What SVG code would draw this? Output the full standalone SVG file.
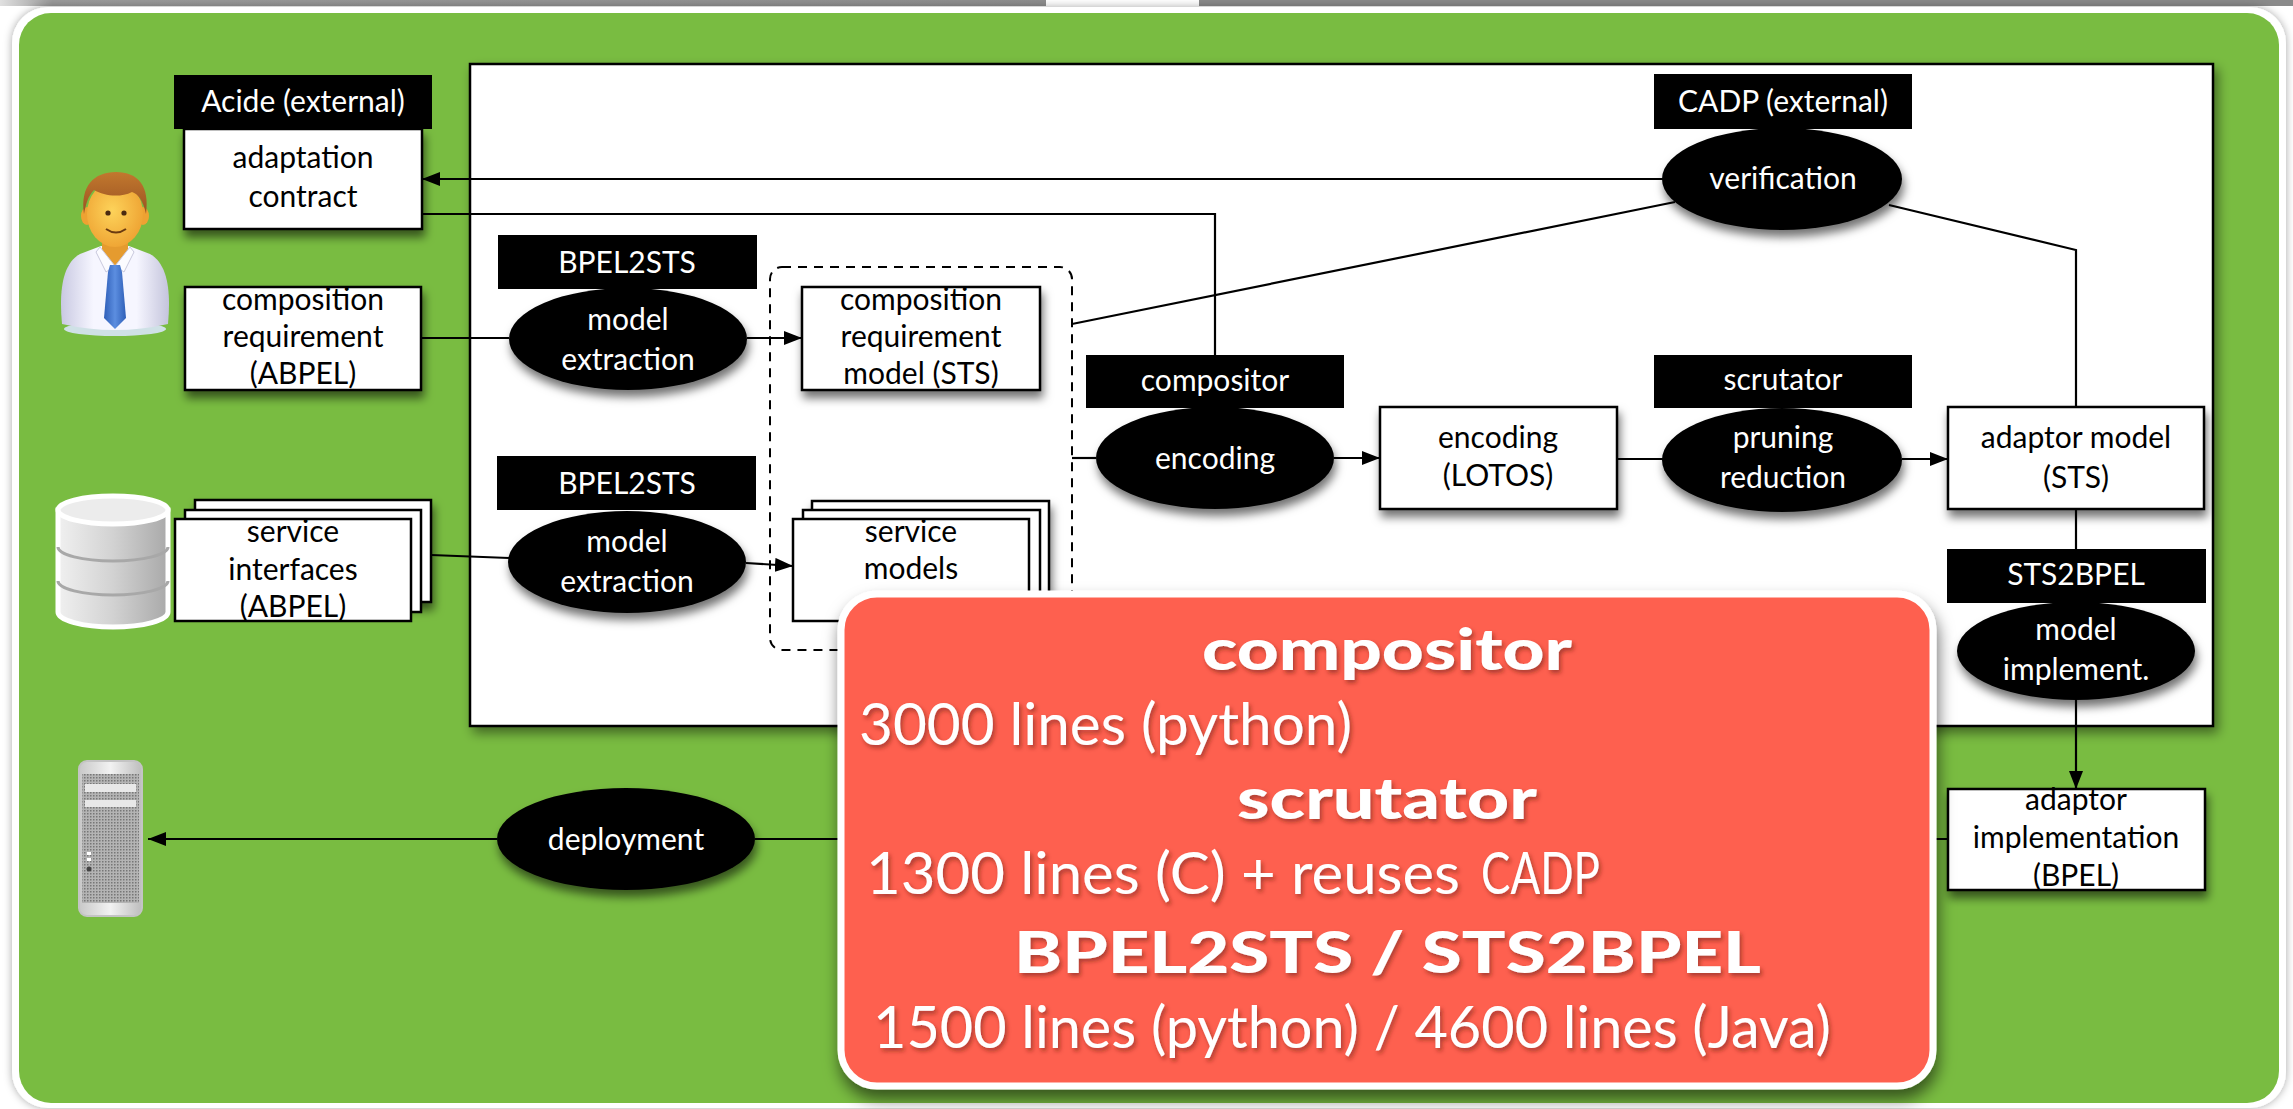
<svg xmlns="http://www.w3.org/2000/svg" width="2293" height="1109" viewBox="0 0 2293 1109">
  <style>
    .lbl { fill: #000; }
    .box { fill: #fff; stroke: #000; stroke-width: 2.5; }
    .op { fill: #000; }
    .t { font-family: Lato, "Open Sans", "Liberation Sans", sans-serif; font-size: 30px; text-anchor: middle; fill: #000; }
    .tw { fill: #fff; }
    .conn { stroke: #000; stroke-width: 2.2; fill: none; }
    .dash { fill: none; stroke: #000; stroke-width: 2; stroke-dasharray: 9 7; }
    .big { font-family: Lato, "Open Sans", "Liberation Sans", sans-serif; font-size: 58px; fill: #fff; }
    .bold { font-weight: 900; }
  </style>
  <defs>
    <marker id="arrow" markerUnits="userSpaceOnUse" markerWidth="18" markerHeight="14" refX="18" refY="7" orient="auto">
      <path d="M0,0 L18,7 L0,14 Z" fill="#000"/>
    </marker>
    <filter id="shadow" x="-20%" y="-20%" width="140%" height="160%">
      <feDropShadow dx="2" dy="7" stdDeviation="5" flood-color="#000" flood-opacity="0.55"/>
    </filter>
    <filter id="panelShadow" x="-5%" y="-5%" width="110%" height="115%">
      <feDropShadow dx="4" dy="6" stdDeviation="6" flood-color="#000" flood-opacity="0.45"/>
    </filter>
    <filter id="redShadow" x="-5%" y="-5%" width="110%" height="120%">
      <feDropShadow dx="2" dy="10" stdDeviation="8" flood-color="#000" flood-opacity="0.55"/>
    </filter>
    <filter id="outerShadow" x="-2%" y="-2%" width="104%" height="104%">
      <feDropShadow dx="0" dy="0" stdDeviation="4" flood-color="#000" flood-opacity="0.35"/>
    </filter>
    <filter id="textShadow" x="-5%" y="-20%" width="110%" height="150%">
      <feDropShadow dx="2" dy="3" stdDeviation="2" flood-color="#6b1f14" flood-opacity="0.55"/>
    </filter>
    <linearGradient id="topbar" x1="0" y1="0" x2="1" y2="0">
      <stop offset="0" stop-color="#e0e0e0"/>
      <stop offset="0.05" stop-color="#9a9a9a"/>
      <stop offset="1" stop-color="#8e8e8e"/>
    </linearGradient>
    <linearGradient id="shirt" x1="0" y1="0" x2="1" y2="0">
      <stop offset="0" stop-color="#c9c9e2"/>
      <stop offset="0.3" stop-color="#f6f6ff"/>
      <stop offset="0.7" stop-color="#f6f6ff"/>
      <stop offset="1" stop-color="#c4c4dc"/>
    </linearGradient>
    <radialGradient id="face" cx="0.45" cy="0.45" r="0.6">
      <stop offset="0" stop-color="#fdd35a"/>
      <stop offset="1" stop-color="#eea232"/>
    </radialGradient>
    <linearGradient id="hair" x1="0" y1="0" x2="0" y2="1">
      <stop offset="0" stop-color="#c2782e"/>
      <stop offset="1" stop-color="#9a5222"/>
    </linearGradient>
    <linearGradient id="tie" x1="0" y1="0" x2="1" y2="0">
      <stop offset="0" stop-color="#2f5fb8"/>
      <stop offset="0.5" stop-color="#5c8ee0"/>
      <stop offset="1" stop-color="#2f5fb8"/>
    </linearGradient>
    <linearGradient id="drum" x1="0" y1="0" x2="1" y2="0">
      <stop offset="0" stop-color="#f0f0f0"/>
      <stop offset="0.5" stop-color="#d2d2d2"/>
      <stop offset="1" stop-color="#a9a9a9"/>
    </linearGradient>
    <linearGradient id="silver" x1="0" y1="0" x2="1" y2="0">
      <stop offset="0" stop-color="#c8c8c8"/>
      <stop offset="0.5" stop-color="#f2f2f2"/>
      <stop offset="1" stop-color="#bdbdbd"/>
    </linearGradient>
    <pattern id="mesh" width="3" height="3" patternUnits="userSpaceOnUse">
      <rect width="3" height="3" fill="#b4b4b4"/>
      <rect width="1.5" height="1.5" fill="#777"/>
    </pattern>
  </defs>

  <!-- page frame -->
  <rect width="2293" height="1109" fill="#fff"/>
  <rect x="0" y="0" width="1046" height="6" fill="url(#topbar)"/>
  <rect x="1199" y="0" width="1094" height="6" fill="#8a8a8a"/>
  <rect x="12" y="7" width="2274" height="1101" rx="36" fill="#fff" filter="url(#outerShadow)"/>
  <rect x="19" y="13" width="2260" height="1090" rx="32" fill="#79bc41"/>

  <!-- tool boundary -->
  <rect id="panel" x="470" y="64" width="1743" height="662" fill="#fff" stroke="#000" stroke-width="2.5" filter="url(#panelShadow)"/>
  <rect id="model-group" x="770" y="267" width="302" height="383" rx="12" class="dash"/>

  <!-- connectors -->
  <g id="connectors">
    <line class="conn" x1="1663" y1="179" x2="422" y2="179" marker-end="url(#arrow)"/>
    <polyline class="conn" points="422,214 1215,214 1215,355"/>
    <line class="conn" x1="421" y1="338" x2="509" y2="338"/>
    <line class="conn" x1="747" y1="338" x2="802" y2="338" marker-end="url(#arrow)"/>
    <line class="conn" x1="431" y1="555" x2="509" y2="558"/>
    <line class="conn" x1="746" y1="563" x2="793" y2="566" marker-end="url(#arrow)"/>
    <line class="conn" x1="1072" y1="324" x2="1675" y2="202"/>
    <line class="conn" x1="1072" y1="458" x2="1096" y2="458"/>
    <line class="conn" x1="1334" y1="458" x2="1380" y2="458" marker-end="url(#arrow)"/>
    <line class="conn" x1="1617" y1="459" x2="1663" y2="459"/>
    <line class="conn" x1="1902" y1="459" x2="1948" y2="459" marker-end="url(#arrow)"/>
    <polyline class="conn" points="1889,205 2076,250 2076,407"/>
    <line class="conn" x1="2076" y1="509" x2="2076" y2="549"/>
    <line class="conn" x1="2076" y1="700" x2="2076" y2="789" marker-end="url(#arrow)"/>
    <line class="conn" x1="1948" y1="839" x2="755" y2="839"/>
    <line class="conn" x1="497" y1="839" x2="148" y2="839" marker-end="url(#arrow)"/>
  </g>

  <!-- designer -->
  <g id="designer">
    <ellipse cx="115" cy="329" rx="51" ry="7" fill="#cfe1e6"/>
    <path d="M62,324 C59,292 62,264 80,254 L101,246 L129,246 L150,254 C168,264 171,292 168,324 Q115,336 62,324 Z" fill="url(#shirt)"/>
    <path d="M102,240 L128,240 L128,256 L115,266 L102,256 Z" fill="#e59b2f"/>
    <path d="M100,247 L115,266 L106,272 L96,252 Z" fill="#fbfbff" stroke="#c8c8dc" stroke-width="1"/>
    <path d="M130,247 L115,266 L124,272 L134,252 Z" fill="#fbfbff" stroke="#c8c8dc" stroke-width="1"/>
    <path d="M110,265 L120,265 L122,272 L126,318 L115,329 L104,318 L108,272 Z" fill="url(#tie)"/>
    <ellipse cx="87" cy="216" rx="6" ry="9" fill="#eea232"/>
    <ellipse cx="143" cy="216" rx="6" ry="9" fill="#eea232"/>
    <ellipse cx="115" cy="214" rx="28" ry="33" fill="url(#face)"/>
    <path d="M84,214 C80,186 94,172 116,172 C138,172 150,186 146,214 C143,200 138,194 132,192 C120,198 104,196 94,190 C88,196 86,204 84,214 Z" fill="url(#hair)"/>
    <circle cx="108" cy="213" r="2.6" fill="#4a2a10"/>
    <circle cx="124" cy="213" r="2.6" fill="#4a2a10"/>
    <path d="M106,229 Q116,236 126,229" fill="none" stroke="#6a3a10" stroke-width="2"/>
  </g>

  <!-- service repository -->
  <g id="repository">
    <path d="M58,510 L58,612 A55,15 0 0 0 168,612 L168,510 Z" fill="url(#drum)" stroke="#fff" stroke-width="5"/>
    <path d="M58,547 A55,14 0 0 0 168,547" fill="none" stroke="#a8a8a8" stroke-width="3"/>
    <path d="M58,581 A55,14 0 0 0 168,581" fill="none" stroke="#a8a8a8" stroke-width="3"/>
    <ellipse cx="113" cy="510" rx="55" ry="14" fill="#ececec" stroke="#fff" stroke-width="5"/>
  </g>

  <!-- deployment server -->
  <g id="server">
    <rect x="79" y="761" width="63" height="155" rx="8" fill="url(#silver)" stroke="#c4c4c4" stroke-width="2"/>
    <rect x="82" y="774" width="57" height="129" fill="url(#mesh)"/>
    <rect x="85" y="784" width="51" height="8" fill="#e8e8e8"/>
    <rect x="85" y="800" width="51" height="7" fill="#e8e8e8"/>
    <rect x="87" y="852" width="4" height="3" fill="#fff"/>
    <rect x="87" y="858" width="4" height="3" fill="#fff"/>
    <circle cx="89" cy="869" r="2.5" fill="#444"/>
  </g>

  <!-- Acide -->
  <g id="adaptation-contract">
    <rect class="box" x="184" y="129" width="238" height="100" filter="url(#shadow)"/>
    <text class="t" x="303" y="168">adaptation</text>
    <text class="t" x="303" y="207">contract</text>
  </g>
  <g id="acide-label">
    <rect class="lbl" x="174" y="75" width="258" height="54"/>
    <text class="t tw" x="303" y="112">Acide (external)</text>
  </g>

  <g id="composition-requirement">
    <rect class="box" x="185" y="287" width="236" height="103" filter="url(#shadow)"/>
    <text class="t" x="303" y="310">composition</text>
    <text class="t" x="303" y="347">requirement</text>
    <text class="t" x="303" y="384">(ABPEL)</text>
  </g>

  <g id="service-interfaces">
    <rect class="box" x="195" y="500" width="236" height="102" filter="url(#shadow)"/>
    <rect class="box" x="185" y="510" width="236" height="102"/>
    <rect class="box" x="175" y="519" width="236" height="102"/>
    <text class="t" x="293" y="542">service</text>
    <text class="t" x="293" y="580">interfaces</text>
    <text class="t" x="293" y="617">(ABPEL)</text>
  </g>

  <!-- BPEL2STS extraction -->
  <g id="extraction-1">
    <ellipse class="op" cx="628" cy="339" rx="119" ry="51" filter="url(#shadow)"/>
    <text class="t tw" x="628" y="330">model</text>
    <text class="t tw" x="628" y="370">extraction</text>
  </g>
  <g id="bpel2sts-label-1">
    <rect class="lbl" x="498" y="235" width="259" height="54"/>
    <text class="t tw" x="627" y="273">BPEL2STS</text>
  </g>
  <g id="extraction-2">
    <ellipse class="op" cx="627" cy="562" rx="119" ry="51" filter="url(#shadow)"/>
    <text class="t tw" x="627" y="552">model</text>
    <text class="t tw" x="627" y="592">extraction</text>
  </g>
  <g id="bpel2sts-label-2">
    <rect class="lbl" x="497" y="456" width="259" height="54"/>
    <text class="t tw" x="627" y="494">BPEL2STS</text>
  </g>

  <g id="composition-requirement-model">
    <rect class="box" x="802" y="287" width="238" height="103" filter="url(#shadow)"/>
    <text class="t" x="921" y="310">composition</text>
    <text class="t" x="921" y="347">requirement</text>
    <text class="t" x="921" y="384">model (STS)</text>
  </g>

  <g id="service-models">
    <rect class="box" x="812" y="501" width="237" height="100" filter="url(#shadow)"/>
    <rect class="box" x="803" y="510" width="237" height="101"/>
    <rect class="box" x="793" y="519" width="236" height="102"/>
    <text class="t" x="911" y="542">service</text>
    <text class="t" x="911" y="579">models</text>
  </g>

  <!-- compositor -->
  <g id="encoding">
    <ellipse class="op" cx="1215" cy="458" rx="119" ry="51" filter="url(#shadow)"/>
    <text class="t tw" x="1215" y="469">encoding</text>
  </g>
  <g id="compositor-label">
    <rect class="lbl" x="1086" y="355" width="258" height="53"/>
    <text class="t tw" x="1215" y="391">compositor</text>
  </g>

  <g id="encoding-lotos">
    <rect class="box" x="1380" y="407" width="237" height="102" filter="url(#shadow)"/>
    <text class="t" x="1498" y="448">encoding</text>
    <text class="t" x="1498" y="486">(LOTOS)</text>
  </g>

  <!-- CADP -->
  <g id="verification">
    <ellipse class="op" cx="1782" cy="179" rx="120" ry="51" filter="url(#shadow)"/>
    <text class="t tw" x="1783" y="189">verification</text>
  </g>
  <g id="cadp-label">
    <rect class="lbl" x="1654" y="74" width="258" height="55"/>
    <text class="t tw" x="1783" y="112">CADP (external)</text>
  </g>

  <!-- scrutator -->
  <g id="pruning">
    <ellipse class="op" cx="1782" cy="460" rx="120" ry="52" filter="url(#shadow)"/>
    <text class="t tw" x="1783" y="448">pruning</text>
    <text class="t tw" x="1783" y="488">reduction</text>
  </g>
  <g id="scrutator-label">
    <rect class="lbl" x="1654" y="355" width="258" height="53"/>
    <text class="t tw" x="1783" y="390">scrutator</text>
  </g>

  <g id="adaptor-model">
    <rect class="box" x="1948" y="407" width="256" height="102" filter="url(#shadow)"/>
    <text class="t" x="2076" y="448">adaptor model</text>
    <text class="t" x="2076" y="488">(STS)</text>
  </g>

  <!-- STS2BPEL -->
  <g id="implementation">
    <ellipse class="op" cx="2076" cy="651" rx="119" ry="49" filter="url(#shadow)"/>
    <text class="t tw" x="2076" y="640">model</text>
    <text class="t tw" x="2076" y="680">implement.</text>
  </g>
  <g id="sts2bpel-label">
    <rect class="lbl" x="1947" y="549" width="259" height="54"/>
    <text class="t tw" x="2076" y="585">STS2BPEL</text>
  </g>

  <g id="adaptor-implementation">
    <rect class="box" x="1948" y="789" width="257" height="101" filter="url(#shadow)"/>
    <text class="t" x="2076" y="810">adaptor</text>
    <text class="t" x="2076" y="848">implementation</text>
    <text class="t" x="2076" y="886">(BPEL)</text>
  </g>

  <g id="deployment">
    <ellipse class="op" cx="626" cy="839" rx="129" ry="51" filter="url(#shadow)"/>
    <text class="t tw" x="626" y="850">deployment</text>
  </g>

  <!-- code size summary -->
  <g id="summary">
    <rect x="841" y="594" width="1092" height="492" rx="36" fill="#fe6150" stroke="#fff" stroke-width="7" filter="url(#redShadow)"/>
    <g filter="url(#textShadow)">
      <text class="big bold" x="1202" y="670" textLength="370" lengthAdjust="spacingAndGlyphs">compositor</text>
      <text class="big" x="859" y="745" textLength="493" lengthAdjust="spacingAndGlyphs">3000 lines (python)</text>
      <text class="big bold" x="1237" y="819" textLength="300" lengthAdjust="spacingAndGlyphs">scrutator</text>
      <text class="big" x="866" y="894" textLength="594" lengthAdjust="spacingAndGlyphs">1300 lines (C) + reuses</text>
      <text class="big" x="1481" y="894" font-size="44" textLength="119" lengthAdjust="spacingAndGlyphs">CADP</text>
      <text class="big bold" x="1014" y="973" textLength="747" lengthAdjust="spacingAndGlyphs">BPEL2STS / STS2BPEL</text>
      <text class="big" x="873" y="1048" textLength="958" lengthAdjust="spacingAndGlyphs">1500 lines (python) / 4600 lines (Java)</text>
    </g>
  </g>
</svg>
